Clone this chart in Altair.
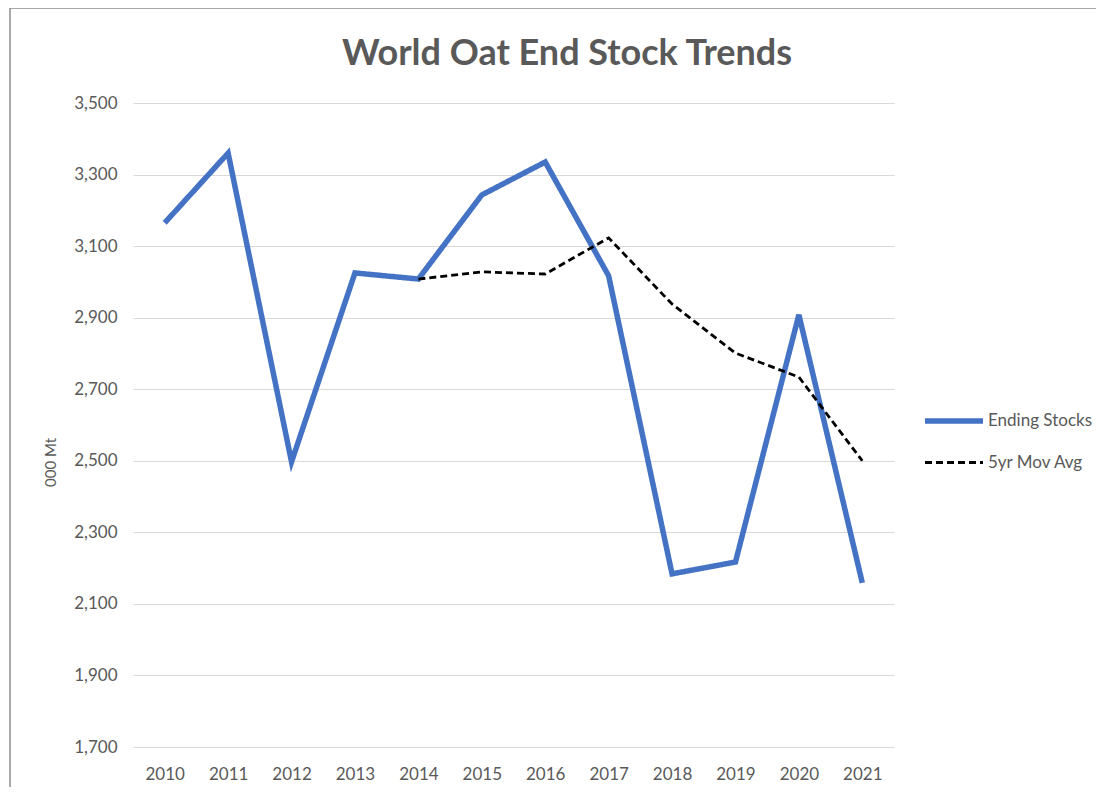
import altair as alt
import pandas as pd

years = ["2010", "2011", "2012", "2013", "2014", "2015", "2016", "2017", "2018", "2019", "2020", "2021"]
ending_stocks = [3165, 3360, 2497, 3025, 3008, 3243, 3335, 3017, 2184, 2217, 2908, 2159]
mov_avg_years = ["2014", "2015", "2016", "2017", "2018", "2019", "2020", "2021"]
mov_avg = [3008, 3028, 3022, 3123, 2938, 2801, 2734, 2500]
series_names = ["Ending Stocks", "5yr Mov Avg"]
y_ticks = [1700, 1900, 2100, 2300, 2500, 2700, 2900, 3100, 3300, 3500]
title_text = "World Oat End Stock Trends"

rows = [{"year": y, "value": v, "series": series_names[0]} for y, v in zip(years, ending_stocks)]
rows += [{"year": y, "value": v, "series": series_names[1]} for y, v in zip(mov_avg_years, mov_avg)]
df = pd.DataFrame(rows)

FONT = "Lato"
GREY = "#595959"

leg = dict(title=None, orient="none", legendX=789, legendY=286,
           symbolType="stroke", symbolSize=3364, rowPadding=-22,
           labelFont=FONT, labelFontSize=17, labelColor=GREY, labelOffset=2)

lines = alt.Chart(df).mark_line(strokeCap="butt", strokeJoin="miter").encode(
    x=alt.X("year:O", sort=years, scale=alt.Scale(type="point", padding=0.5, domain=years),
            axis=alt.Axis(title=None, labelAngle=0, ticks=False, domain=False, grid=False,
                          labelFont=FONT, labelFontSize=17, labelColor=GREY, labelPadding=19)),
    y=alt.Y("value:Q", scale=alt.Scale(domain=[1700, 3500], nice=False, zero=False),
            axis=alt.Axis(title="000 Mt", values=y_ticks, format=",d", ticks=False, domain=False,
                          grid=True, gridColor="#d9d9d9", gridWidth=1.2,
                          labelFont=FONT, labelFontSize=17, labelColor=GREY, labelPadding=16,
                          titleFont=FONT, titleFontSize=15, titleFontWeight="normal", titleColor=GREY,
                          titleX=-83, titleY=359, titleBaseline="middle", titleAlign="center")),
    color=alt.Color("series:N", scale=alt.Scale(domain=series_names, range=["#4472C4", "#000000"]),
                    legend=alt.Legend(**leg)),
    strokeDash=alt.StrokeDash("series:N", scale=alt.Scale(domain=series_names, range=[[1, 0], [7, 4]]),
                              legend=alt.Legend(**leg)),
    strokeWidth=alt.StrokeWidth("series:N", scale=alt.Scale(domain=series_names, range=[5.5, 2.8]),
                                legend=alt.Legend(**leg)),
    order=alt.Order("year:O"),
)

frame_df = pd.DataFrame({"a": [0]})
border_top = alt.Chart(frame_df).mark_rule(stroke="#8c8c8c", strokeWidth=1.5).encode(
    x=alt.value(-123), x2=alt.value(1000), y=alt.value(-95)
)
border_left = alt.Chart(frame_df).mark_rule(stroke="#8c8c8c", strokeWidth=1.5).encode(
    x=alt.value(-123), y=alt.value(-95), y2=alt.value(720)
)

title = alt.Chart(pd.DataFrame({"t": [title_text]})).mark_text(
    font=FONT, fontSize=36, fontWeight="bold", color=GREY, align="center", baseline="middle"
).encode(text="t:N", x=alt.value(434), y=alt.value(-49))

chart = alt.layer(border_top, border_left, lines, title).properties(
    width=761, height=644,
    autosize=alt.AutoSizeParams(type="none"),
    padding={"left": 125, "top": 95, "right": 202, "bottom": 40},
).configure_view(stroke=None).configure_legend(symbolStrokeWidth=5)

chart.save("out.html", embed_options={"renderer": "svg", "actions": False})
